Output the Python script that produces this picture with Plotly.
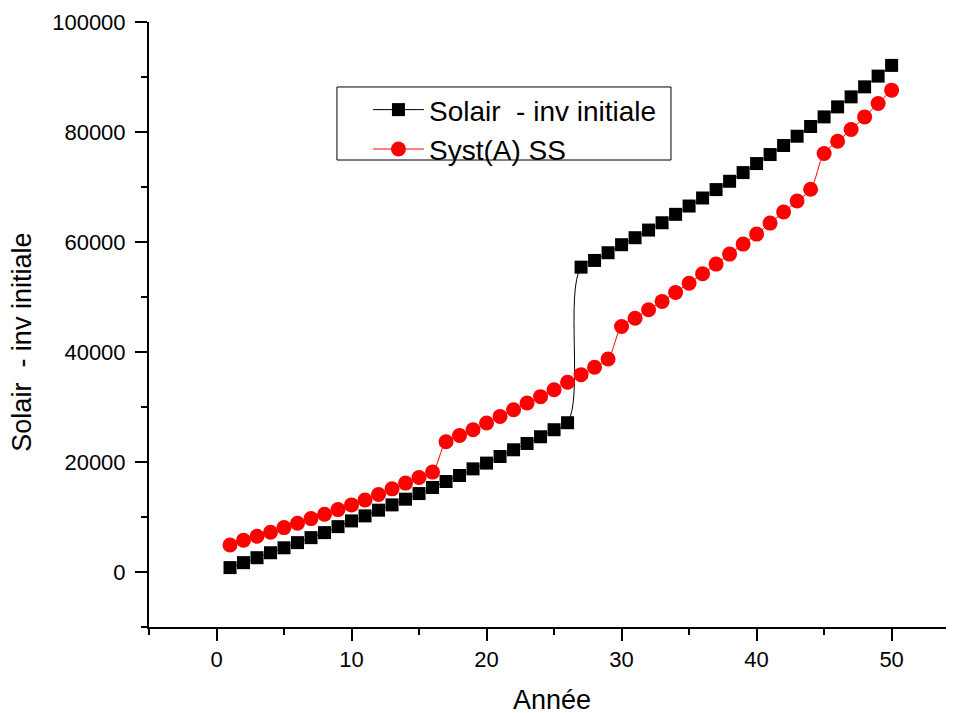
import plotly.graph_objects as go

years = list(range(1, 51))
solair_inv_initiale = [
    800, 1700, 2600, 3500, 4400, 5340, 6250, 7160, 8250, 9290,
    10200, 11240, 12200, 13240, 14260, 15360, 16450, 17550, 18750, 19800,
    21000, 22220, 23370, 24590, 25870, 27140, 55430, 56650, 58050, 59510,
    60780, 62170, 63500, 65030, 66540, 68000, 69530, 71040, 72620, 74260,
    75900, 77540, 79230, 81000, 82750, 84570, 86390, 88210, 90160, 92110,
]
syst_a_ss = [
    4920, 5770, 6500, 7230, 8070, 8870, 9710, 10510, 11350, 12200,
    13100, 14080, 15120, 16160, 17180, 18160, 23680, 24830, 25870, 27080,
    28290, 29510, 30720, 31880, 33150, 34490, 35880, 37220, 38740, 44630,
    46140, 47670, 49200, 50820, 52510, 54230, 55980, 57800, 59620, 61440,
    63440, 65450, 67450, 69580, 76080, 78320, 80450, 82750, 85190, 87610,
]
name_black = "Solair  - inv initiale"
name_red = "Syst(A) SS"
x_title = "Année"
y_title = "Solair  - inv initiale"

FONT = "Liberation Sans, Arial, sans-serif"

fig = go.Figure()
fig.add_trace(go.Scatter(
    x=years, y=solair_inv_initiale, name=name_black, mode="lines+markers",
    line=dict(color="black", width=1, shape="spline", smoothing=1.3),
    marker=dict(symbol="square", size=13, color="black"),
))
fig.add_trace(go.Scatter(
    x=years, y=syst_a_ss, name=name_red, mode="lines+markers",
    line=dict(color="red", width=1, shape="spline", smoothing=1),
    marker=dict(symbol="circle", size=15, color="red"),
))

# page body has an 8px margin, so the figure is 946x705 placed at (8, 8)
fig.update_layout(
    width=946, height=705,
    margin=dict(l=141, r=0, t=14, b=86),
    plot_bgcolor="white", paper_bgcolor="white",
    font=dict(family=FONT, size=22, color="black"),
    showlegend=True,
    legend=dict(
        x=0.272, y=0.896, xanchor="left", yanchor="top",
        bgcolor="rgba(0,0,0,0)", borderwidth=0,
        font=dict(family=FONT, size=28, color="black"),
        tracegroupgap=0, itemwidth=51,
    ),
    shapes=[
        dict(type="rect", xref="paper", yref="paper",
             x0=0.2335, x1=0.6484, y0=0.7719, y1=0.8926,
             line=dict(color="black", width=1), fillcolor="white", layer="below"),
    ],
    annotations=[
        dict(text=x_title, xref="paper", yref="paper", x=0.5, y=0.0,
             xanchor="center", yanchor="top", yshift=-56, showarrow=False,
             font=dict(family=FONT, size=27, color="black")),
        dict(text=y_title, xref="paper", yref="paper", x=0, y=0.47,
             xanchor="center", yanchor="middle", xshift=-127, showarrow=False,
             textangle=-90, font=dict(family=FONT, size=27, color="black")),
    ],
)

fig.update_xaxes(
    range=[-5, 54.62], tickmode="array", tickvals=[0, 10, 20, 30, 40, 50],
    showgrid=False, zeroline=False, showline=True, linecolor="black", linewidth=2,
    ticks="outside", ticklen=12, tickwidth=2, tickcolor="black",
    minor=dict(tickmode="array", tickvals=[-5, 5, 15, 25, 35, 45], ticks="outside",
               ticklen=6, tickwidth=2, tickcolor="black", showgrid=False),
    tickfont=dict(family=FONT, size=22, color="black"),
)
fig.update_yaxes(
    range=[-10000, 100000], tickmode="array",
    tickvals=[0, 20000, 40000, 60000, 80000, 100000],
    ticktext=["0", "20000", "40000", "60000", "80000", "100000"],
    showgrid=False, zeroline=False, showline=True, linecolor="black", linewidth=2,
    ticks="outside", ticklen=12, tickwidth=2, tickcolor="black",
    minor=dict(tickmode="array", tickvals=[-10000, 10000, 30000, 50000, 70000, 90000],
               ticks="outside", ticklen=6, tickwidth=2, tickcolor="black", showgrid=False),
    tickfont=dict(family=FONT, size=22, color="black"),
    ticklabelstandoff=5,
)

fig.write_html("out.html")
